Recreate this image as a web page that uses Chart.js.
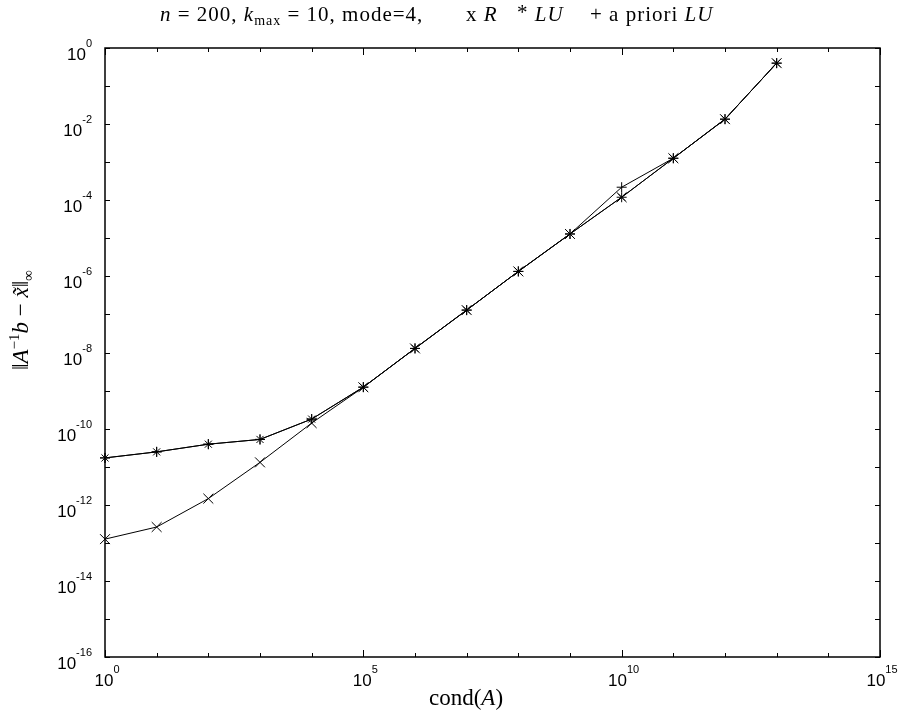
<!DOCTYPE html>
<html>
<head>
<meta charset="utf-8">
<script src="https://cdn.jsdelivr.net/npm/chart.js@4.4.0/dist/chart.umd.min.js"></script>
<style>
  html, body { margin: 0; padding: 0; background: #fff; }
  #contenedor { width: 898px; height: 718px; }
</style>
</head>
<body>
<div id="contenedor"><canvas id="grafico" width="898" height="718"></canvas></div>
<script>
// cond(A) de cada matriz de prueba
const condA = [1e0, 1e1, 1e2, 1e3, 1e4, 1e5, 1e6, 1e7, 1e8, 1e9, 1e10, 1e11, 1e12, 1e13];
// error ||A^-1 b - x~||_inf
const errR      = [1.25e-13, 2.6e-13, 1.45e-12, 1.3e-11, 1.4e-10, 1.22e-9, 1.28e-8, 1.3e-7, 1.35e-6, 1.3e-5, 1.2e-4, 1.27e-3, 1.35e-2, 0.40];
const errLU     = [1.7e-11, 2.45e-11, 3.9e-11, 5.2e-11, 1.78e-10, 1.23e-9, 1.28e-8, 1.3e-7, 1.35e-6, 1.3e-5, 1.2e-4, 1.27e-3, 1.35e-2, 0.40];
const errAPriori = [1.7e-11, 2.45e-11, 3.9e-11, 5.2e-11, 1.78e-10, 1.23e-9, 1.28e-8, 1.3e-7, 1.35e-6, 1.3e-5, 2.2e-4, 1.27e-3, 1.35e-2, 0.40];
// exponentes de las marcas de los ejes
const expX = [0, 1, 2, 3, 4, 5, 6, 7, 8, 9, 10, 11, 12, 13, 14, 15];
const expXEtiqueta = [0, 5, 10, 15];
const expY = [-16, -15, -14, -13, -12, -11, -10, -9, -8, -7, -6, -5, -4, -3, -2, -1, 0];
const expYEtiqueta = [-16, -14, -12, -10, -8, -6, -4, -2, 0];

const SANS = '"Liberation Sans", Arial, sans-serif';
const SERIF = '"Liberation Serif", "DejaVu Serif", serif';

function puntos(ys) {
  return condA.map((c, i) => ({ x: c, y: ys[i] }));
}

// "10" con el exponente en superíndice
function potencia(ctx, e, x, y, alinear) {
  const base = '10', sup = String(e);
  ctx.font = '17px ' + SANS;
  const wb = ctx.measureText(base).width;
  ctx.font = '11px ' + SANS;
  const ws = ctx.measureText(sup).width;
  const total = wb + ws;
  const x0 = alinear === 'right' ? x - total : x - total / 2;
  ctx.font = '17px ' + SANS;
  ctx.fillText(base, x0, y);
  ctx.font = '11px ' + SANS;
  ctx.fillText(sup, x0 + wb, y - 13);
}

// trozos de texto con distinta fuente, uno detrás de otro desde x
function escribir(ctx, trozos, x, y) {
  trozos.forEach(t => {
    ctx.font = t.f;
    ctx.fillText(t.s, x, y + (t.dy || 0));
    x += ctx.measureText(t.s).width;
  });
  return x;
}

function anchoTrozos(ctx, trozos) {
  return trozos.reduce((w, t) => { ctx.font = t.f; return w + ctx.measureText(t.s).width; }, 0);
}

function centrado(ctx, trozos, cx, y) {
  escribir(ctx, trozos, cx - anchoTrozos(ctx, trozos) / 2, y);
}

const marcoEjes = {
  id: 'marcoEjes',
  afterDraw(chart) {
    const { ctx, chartArea: a, scales: { x, y } } = chart;
    ctx.save();
    ctx.strokeStyle = '#000';
    ctx.fillStyle = '#000';
    ctx.lineWidth = 1.5;
    ctx.strokeRect(a.left, a.top, a.right - a.left, a.bottom - a.top);

    ctx.lineWidth = 1;
    ctx.beginPath();
    expX.forEach(e => {
      const px = Math.round(x.getPixelForValue(Math.pow(10, e))) + 0.5;
      const largo = e % 5 === 0 ? 7 : 4;
      ctx.moveTo(px, a.bottom); ctx.lineTo(px, a.bottom - largo);
      ctx.moveTo(px, a.top); ctx.lineTo(px, a.top + largo);
    });
    expY.forEach(e => {
      const py = Math.round(y.getPixelForValue(Math.pow(10, e))) + 0.5;
      ctx.moveTo(a.left, py); ctx.lineTo(a.left + 5, py);
      ctx.moveTo(a.right, py); ctx.lineTo(a.right - 5, py);
    });
    ctx.stroke();

    ctx.textBaseline = 'alphabetic';
    ctx.textAlign = 'left';
    expXEtiqueta.forEach(e => {
      potencia(ctx, e, x.getPixelForValue(Math.pow(10, e)) + 2, a.bottom + 29, 'center');
    });
    expYEtiqueta.forEach(e => {
      potencia(ctx, e, a.left - 13, y.getPixelForValue(Math.pow(10, e)) + 12, 'right');
    });

    // titulo: parámetros y leyenda de marcadores
    const R = '21px ' + SERIF, I = 'italic 21px ' + SERIF, P = '14px ' + SERIF;
    ctx.letterSpacing = '1px';
    escribir(ctx, [
      { s: 'n', f: I }, { s: ' = 200, ', f: R },
      { s: 'k', f: I }, { s: 'max', f: P, dy: 4 },
      { s: ' = 10, mode=4,', f: R }
    ], 160, 21);
    escribir(ctx, [{ s: 'x ', f: R }, { s: 'R', f: I }], 466, 21);
    escribir(ctx, [{ s: '* ', f: R, dy: -2 }, { s: 'LU', f: I }], 517, 21);
    escribir(ctx, [{ s: '+ a priori ', f: R }, { s: 'LU', f: I }], 590, 21);
    ctx.letterSpacing = '0px';

    // eje x
    const R23 = '23px ' + SERIF, I23 = 'italic 23px ' + SERIF;
    centrado(ctx, [{ s: 'cond(', f: R23 }, { s: 'A', f: I23 }, { s: ')', f: R23 }], 466, 705);

    // eje y, girado
    ctx.translate(28, 320);
    ctx.rotate(-Math.PI / 2);
    const R22 = '23px ' + SERIF, I22 = 'italic 23px ' + SERIF, R15 = '15px ' + SERIF;
    centrado(ctx, [
      { s: '\u2016', f: R22 }, { s: 'A', f: I22 }, { s: '\u22121', f: R15, dy: -9 },
      { s: 'b', f: I22 }, { s: ' \u2212 ', f: R22 }, { s: 'x\u0303', f: I22 },
      { s: '\u2016', f: R22 }, { s: '\u221E', f: R15, dy: 5 }
    ], 0, 0);
    ctx.restore();
  }
};

const comun = { borderColor: '#000', backgroundColor: '#000', borderWidth: 1, pointBorderWidth: 1, showLine: true, clip: false };

new Chart(document.getElementById('grafico'), {
  type: 'scatter',
  data: {
    datasets: [
      Object.assign({ label: 'R', data: puntos(errR), pointStyle: 'crossRot', pointRadius: 7 }, comun),
      Object.assign({ label: 'a priori LU', data: puntos(errAPriori), pointStyle: 'cross', pointRadius: 5 }, comun),
      Object.assign({ label: 'LU', data: puntos(errLU), pointStyle: 'star', pointRadius: 5 }, comun)
    ]
  },
  options: {
    responsive: false,
    animation: false,
    layout: { padding: { left: 105, top: 48, right: 18, bottom: 61 } },
    plugins: { legend: { display: false }, title: { display: false }, tooltip: { enabled: false } },
    scales: {
      x: { type: 'logarithmic', min: 1, max: 1e15, display: false },
      y: { type: 'logarithmic', min: 1e-16, max: 1, display: false }
    }
  },
  plugins: [marcoEjes]
});
</script>
</body>
</html>
